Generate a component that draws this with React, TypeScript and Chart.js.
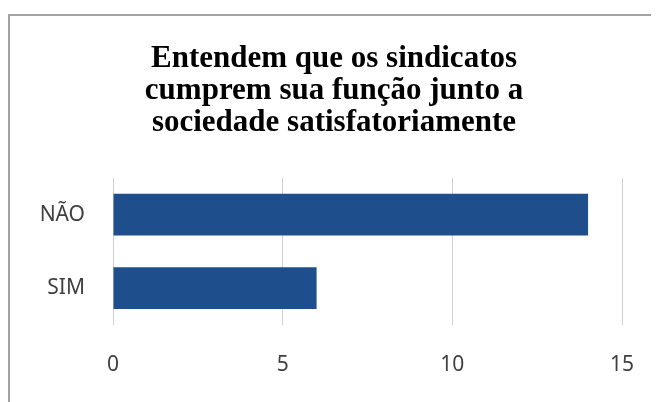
import React, { useEffect, useRef } from "react";
import { Chart, registerables } from "chart.js";

Chart.register(...registerables);

const titleLines = ["Entendem que os sindicatos", "cumprem sua função junto a", "sociedade satisfatoriamente"];
const categories = ["NÃO", "SIM"];
const values = [14, 6];
const xMin = 0;
const xMax = 15;
const xStep = 5;

export default function App() {
  const canvasRef = useRef<HTMLCanvasElement | null>(null);

  useEffect(() => {
    document.body.style.overflow = "hidden";
    const canvas = canvasRef.current;
    if (!canvas) return;
    const chart = new Chart(canvas, {
      type: "bar",
      data: {
        labels: categories,
        datasets: [
          {
            data: values,
            backgroundColor: "#1f4e8c",
            borderWidth: 0,
            barPercentage: 0.57,
            categoryPercentage: 1,
          },
        ],
      },
      options: {
        indexAxis: "y",
        animation: false,
        responsive: true,
        maintainAspectRatio: false,
        layout: { padding: { left: 0, right: 0, top: 0, bottom: 0 } },
        plugins: {
          legend: { display: false },
          tooltip: { enabled: false },
          title: {
            display: true,
            text: titleLines,
            color: "#000000",
            font: { family: "'Liberation Serif', 'Times New Roman', serif", size: 31, weight: "bold", lineHeight: 32 / 31 },
            padding: { top: 27, bottom: 39 },
          },
        },
        scales: {
          x: {
            min: xMin,
            max: xMax,
            ticks: {
              stepSize: xStep,
              color: "#404040",
              font: { family: "'Noto Sans', sans-serif", size: 21 },
              padding: 0,
            },
            grid: {
              color: "#d0d0d0",
              drawTicks: true,
              tickLength: 28,
              tickColor: "rgba(0,0,0,0)",
              lineWidth: 1,
            },
            border: { display: false },
          },
          y: {
            ticks: {
              color: "#404040",
              font: { family: "'Noto Sans', sans-serif", size: 21 },
              padding: 28,
            },
            grid: { display: false, drawTicks: false },
            border: { display: false },
            afterFit: (scale: any) => {
              scale.width = 103;
            },
          },
          yRight: {
            type: "category",
            position: "right",
            display: true,
            ticks: { display: false },
            grid: { display: false, drawTicks: false },
            border: { display: false },
            afterFit: (scale: any) => {
              scale.width = 36;
            },
          },
        },
      },
    });
    return () => chart.destroy();
  }, []);

  return (
    <div
      style={{
        marginTop: 6,
        width: 651,
        height: 394,
        boxSizing: "border-box",
        borderTop: "2px solid #a3a3a3",
        borderLeft: "2px solid #a3a3a3",
        borderRight: "1px solid #e4e4e4",
        background: "#ffffff",
        position: "relative",
      }}
    >
      <div style={{ position: "absolute", left: 0, top: 0, width: 648, height: 362 }}>
        <canvas ref={canvasRef} />
      </div>
    </div>
  );
}
